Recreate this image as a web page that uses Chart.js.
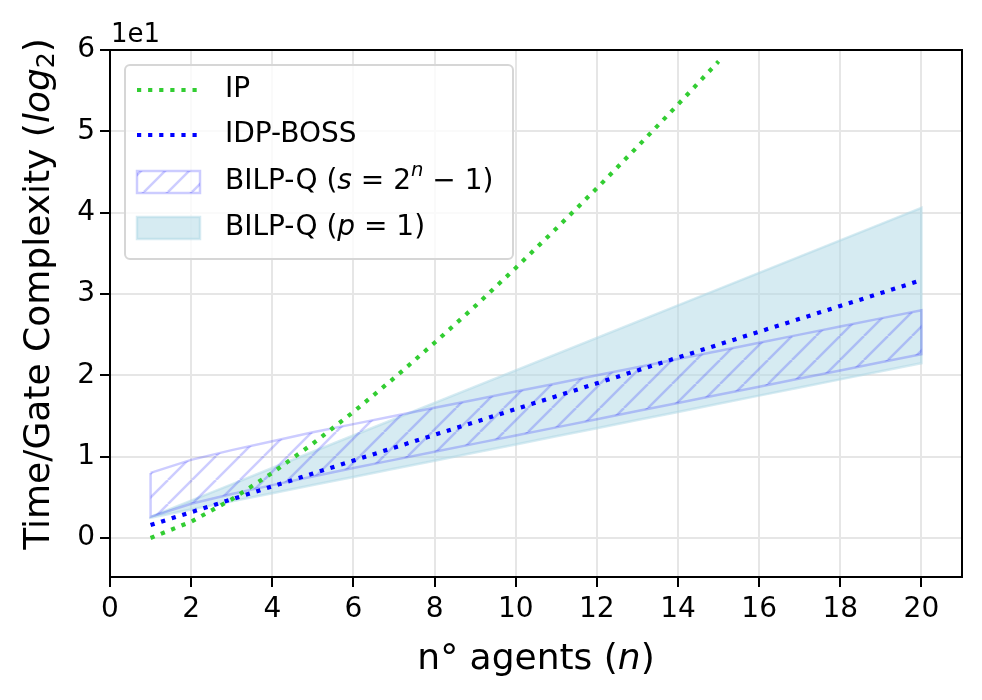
<!DOCTYPE html>
<html><head><meta charset="utf-8">
<script src="https://cdn.jsdelivr.net/npm/chart.js@4.4.0/dist/chart.umd.min.js"></script>
<style>html,body{margin:0;padding:0;background:#fff;}#wrap{width:982px;height:700px;position:relative;}</style>
</head><body><div id="wrap"><canvas id="c" width="982" height="700"></canvas></div>
<script>
// ---- data (y values in plain units; axis shows them scaled by 1e1) ----
const agentsAll = [1,2,3,4,5,6,7,8,9,10,11,12,13,14,15,16,17,18,19,20];
const agentsIP = [1,2,3,4,5,6,7,8,9,10,11,12,13,14,15];
const ipValues = [0, 2.0, 4.75, 8.0, 11.6, 15.5, 19.65, 24.0, 28.5, 33.2, 38.05, 43.0, 48.1, 53.3, 58.6];
const idpBossValues = [1.58, 3.17, 4.75, 6.34, 7.92, 9.51, 11.1, 12.68, 14.26, 15.85, 17.43, 19.02, 20.6, 22.19, 23.77, 25.36, 26.94, 28.53, 30.11, 31.7];
const bilpSUpper = [8.0, 9.6, 10.8, 11.9, 13.0, 14.0, 15.0, 16.0, 17.0, 18.0, 19.0, 20.0, 21.0, 22.0, 23.0, 24.0, 25.0, 26.0, 27.0, 28.0];
const bilpSLower = [2.6, 4.2, 5.4, 6.5, 7.55, 8.6, 9.6, 10.6, 11.6, 12.6, 13.6, 14.6, 15.6, 16.6, 17.6, 18.6, 19.6, 20.6, 21.6, 22.6];
const bilpPUpper = [2.6, 4.6, 6.6, 8.6, 10.6, 12.6, 14.6, 16.6, 18.6, 20.6, 22.6, 24.6, 26.6, 28.6, 30.6, 32.6, 34.6, 36.6, 38.6, 40.6];
const bilpPLower = [2.5, 3.5, 4.5, 5.5, 6.5, 7.5, 8.5, 9.5, 10.5, 11.5, 12.5, 13.5, 14.5, 15.5, 16.5, 17.5, 18.5, 19.5, 20.5, 21.5];
const xTicks = [0,2,4,6,8,10,12,14,16,18,20];
const yTicks = [0,10,20,30,40,50,60];
const seriesLabels = ['IP', 'IDP-BOSS', 'BILP-Q (s = 2^n − 1)', 'BILP-Q (p = 1)'];

// ---- styles ----
const FONT = "'DejaVu Sans'";
const GREEN = '#32cd32', BLUE = '#0000ff';
const HATCH_EDGE = 'rgba(0,0,255,0.2)';
const LB_FILL = 'rgba(173,216,230,0.5)';
const DOT = [4.2, 6.9];

function makeHatch(){
  const D = 24;
  const c = document.createElement('canvas'); c.width = D; c.height = D;
  const g = c.getContext('2d');
  g.strokeStyle = HATCH_EDGE; g.lineWidth = 2.5;
  g.beginPath();
  for (const k of [-D, 0, D]) { g.moveTo(k, D); g.lineTo(k + D, 0); }
  g.stroke();
  return g.createPattern(c, 'repeat');
}
const hatch = makeHatch();

function band(xs, up, lo){
  const pts = xs.map((x,i)=>({x, y: up[i]}));
  for (let i = xs.length-1; i >= 0; i--) pts.push({x: xs[i], y: lo[i]});
  pts.push({x: xs[0], y: up[0]});
  return pts;
}
function line(xs, ys){ return xs.map((x,i)=>({x, y: ys[i]})); }

function drawRich(ctx, segs, x, y, size, align){
  const parts = segs.map(s => {
    const sz = s.sub || s.sup ? size*0.7 : size;
    const f = (s.it ? 'italic ' : '') + sz + 'px ' + FONT;
    ctx.font = f;
    return {t: s.t, f, w: ctx.measureText(s.t).width, dy: s.sub ? size*0.22 : (s.sup ? -size*0.38 : 0)};
  });
  const total = parts.reduce((a,p)=>a+p.w, 0);
  let cx = align === 'center' ? x - total/2 : x;
  ctx.textAlign = 'left';
  for (const p of parts){ ctx.font = p.f; ctx.fillText(p.t, cx, y + p.dy); cx += p.w; }
}

const decor = {
  id: 'decor',
  afterDatasetsDraw(chart){
    const {ctx, chartArea: a} = chart;
    ctx.save();
    ctx.strokeStyle = '#000'; ctx.lineWidth = 2;
    ctx.strokeRect(a.left, a.top, a.right - a.left, a.bottom - a.top);
    ctx.restore();
  },
  afterDraw(chart){
    const {ctx, chartArea: a} = chart;
    ctx.save();
    ctx.fillStyle = '#000';
    ctx.textBaseline = 'alphabetic';
    // offset text
    ctx.font = '26px ' + FONT; ctx.textAlign = 'left';
    ctx.fillText('1e1', a.left + 1, 42);
    // x title
    ctx.textBaseline = 'middle';
    drawRich(ctx, [{t:'n° agents ('}, {t:'n', it:true}, {t:')'}], (a.left + a.right)/2, 660, 36, 'center');
    // y title
    ctx.save();
    ctx.translate(40, 294);
    ctx.rotate(-Math.PI/2);
    drawRich(ctx, [{t:'Time/Gate Complexity ('}, {t:'log', it:true}, {t:'2', sub:true}, {t:')'}], 0, 0, 36, 'center');
    ctx.restore();
    // legend box
    const L = 125, T = 65, R = 513, B = 259, r = 5;
    ctx.beginPath();
    ctx.moveTo(L + r, T); ctx.lineTo(R - r, T); ctx.arcTo(R, T, R, T + r, r);
    ctx.lineTo(R, B - r); ctx.arcTo(R, B, R - r, B, r);
    ctx.lineTo(L + r, B); ctx.arcTo(L, B, L, B - r, r);
    ctx.lineTo(L, T + r); ctx.arcTo(L, T, L + r, T, r); ctx.closePath();
    ctx.fillStyle = 'rgba(255,255,255,0.8)'; ctx.fill();
    ctx.strokeStyle = '#d6d6d6'; ctx.lineWidth = 2; ctx.stroke();
    const hx0 = 137, hx1 = 198, tx = 225;
    const rows = [90, 135, 182, 228];
    ctx.setLineDash(DOT); ctx.lineCap = 'butt'; ctx.lineWidth = 4.2;
    ctx.strokeStyle = GREEN; ctx.beginPath(); ctx.moveTo(hx0, rows[0]); ctx.lineTo(hx1, rows[0]); ctx.stroke();
    ctx.strokeStyle = BLUE; ctx.beginPath(); ctx.moveTo(hx0, rows[1]); ctx.lineTo(hx1, rows[1]); ctx.stroke();
    ctx.setLineDash([]);
    ctx.fillStyle = hatch; ctx.fillRect(hx0, rows[2]-11, 63, 22);
    ctx.strokeStyle = HATCH_EDGE; ctx.lineWidth = 2.5; ctx.strokeRect(hx0, rows[2]-11, 63, 22);
    ctx.fillStyle = LB_FILL; ctx.fillRect(hx0, rows[3]-11, 63, 22);
    ctx.strokeStyle = LB_FILL; ctx.strokeRect(hx0, rows[3]-11, 63, 22);
    ctx.fillStyle = '#000'; ctx.textBaseline = 'middle';
    const fs = 28;
    drawRich(ctx, [{t:seriesLabels[0]}], tx, rows[0], fs, 'left');
    drawRich(ctx, [{t:seriesLabels[1]}], tx, rows[1], fs, 'left');
    drawRich(ctx, [{t:'BILP-Q ('}, {t:'s', it:true}, {t:' = 2'}, {t:'n', it:true, sup:true}, {t:' − 1)'}], tx, rows[2], fs, 'left');
    drawRich(ctx, [{t:'BILP-Q ('}, {t:'p', it:true}, {t:' = 1)'}], tx, rows[3], fs, 'left');
    ctx.restore();
  }
};

new Chart(document.getElementById('c'), {
  type: 'line',
  data: {
    datasets: [
      {label: seriesLabels[0], data: line(agentsIP, ipValues), borderColor: GREEN, borderWidth: 4.2, borderDash: DOT, borderCapStyle: 'butt', pointRadius: 0, fill: false, tension: 0},
      {label: seriesLabels[1], data: line(agentsAll, idpBossValues), borderColor: BLUE, borderWidth: 4.2, borderDash: DOT, borderCapStyle: 'butt', pointRadius: 0, fill: false, tension: 0},
      {label: seriesLabels[2], data: band(agentsAll, bilpSUpper, bilpSLower), borderColor: HATCH_EDGE, backgroundColor: hatch, borderWidth: 2.5, pointRadius: 0, fill: 'shape', tension: 0},
      {label: seriesLabels[3], data: band(agentsAll, bilpPUpper, bilpPLower), borderColor: LB_FILL, backgroundColor: LB_FILL, borderWidth: 2.5, pointRadius: 0, fill: 'shape', tension: 0}
    ]
  },
  options: {
    responsive: false, animation: false, events: [],
    layout: {padding: {top: 50, right: 20, left: 0, bottom: 0}},
    plugins: {legend: {display: false}, tooltip: {enabled: false}},
    scales: {
      x: {
        type: 'linear', min: 0, max: 21,
        afterBuildTicks: s => { s.ticks = xTicks.map(v => ({value: v})); },
        afterFit: s => { s.height = 123; },
        grid: {color: '#e6e6e6', lineWidth: 2, tickLength: 10, tickColor: '#000', tickWidth: 2},
        border: {display: false},
        ticks: {font: {family: 'DejaVu Sans', size: 28}, color: '#000', padding: 6, maxRotation: 0, autoSkip: false}
      },
      y: {
        type: 'linear', min: -4.8, max: 60,
        afterBuildTicks: s => { s.ticks = yTicks.map(v => ({value: v})); },
        afterFit: s => { s.width = 110; },
        grid: {color: '#e6e6e6', lineWidth: 2, tickLength: 10, tickColor: '#000', tickWidth: 2},
        border: {display: false},
        ticks: {font: {family: 'DejaVu Sans', size: 28}, color: '#000', padding: 5, callback: v => String(v/10)}
      }
    }
  },
  plugins: [decor]
});
</script></body></html>
